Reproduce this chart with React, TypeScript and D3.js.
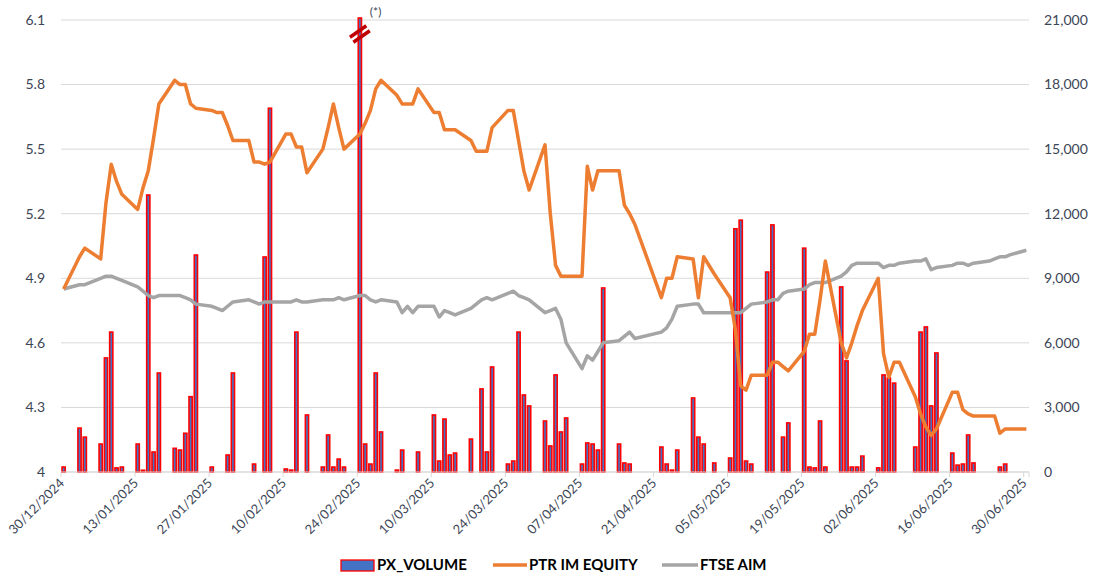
import React from "react";
import * as d3 from "d3";

// trading days shown on the chart
const dates = [
  "2024-12-30",
  "2025-01-02", "2025-01-03", "2025-01-06", "2025-01-07", "2025-01-08", "2025-01-09", "2025-01-10",
  "2025-01-13", "2025-01-14", "2025-01-15", "2025-01-16", "2025-01-17", "2025-01-20", "2025-01-21",
  "2025-01-22", "2025-01-23", "2025-01-24", "2025-01-27", "2025-01-28", "2025-01-29", "2025-01-30", "2025-01-31",
  "2025-02-03", "2025-02-04", "2025-02-05", "2025-02-06", "2025-02-07", "2025-02-10", "2025-02-11",
  "2025-02-12", "2025-02-13", "2025-02-14", "2025-02-17", "2025-02-18", "2025-02-19", "2025-02-20",
  "2025-02-21", "2025-02-24", "2025-02-25", "2025-02-26", "2025-02-27", "2025-02-28",
  "2025-03-03", "2025-03-04", "2025-03-05", "2025-03-06", "2025-03-07", "2025-03-10", "2025-03-11",
  "2025-03-12", "2025-03-13", "2025-03-14", "2025-03-17", "2025-03-18", "2025-03-19", "2025-03-20",
  "2025-03-21", "2025-03-24", "2025-03-25", "2025-03-26", "2025-03-27", "2025-03-28", "2025-03-31",
  "2025-04-01", "2025-04-02", "2025-04-03", "2025-04-04", "2025-04-07", "2025-04-08", "2025-04-09",
  "2025-04-10", "2025-04-11", "2025-04-14", "2025-04-15", "2025-04-16", "2025-04-17", "2025-04-22",
  "2025-04-23", "2025-04-24", "2025-04-25", "2025-04-28", "2025-04-29", "2025-04-30",
  "2025-05-02", "2025-05-05", "2025-05-06", "2025-05-07", "2025-05-08", "2025-05-09", "2025-05-12",
  "2025-05-13", "2025-05-14", "2025-05-15", "2025-05-16", "2025-05-19", "2025-05-20", "2025-05-21",
  "2025-05-22", "2025-05-23", "2025-05-26", "2025-05-27", "2025-05-28", "2025-05-29", "2025-05-30",
  "2025-06-02", "2025-06-03", "2025-06-04", "2025-06-05", "2025-06-06", "2025-06-09", "2025-06-10",
  "2025-06-11", "2025-06-12", "2025-06-13", "2025-06-16", "2025-06-17", "2025-06-18", "2025-06-19",
  "2025-06-20", "2025-06-23", "2025-06-24", "2025-06-25", "2025-06-26", "2025-06-27", "2025-06-30",
];

// PX_VOLUME (right axis)
const volume = [
  230,
  2040, 1620, 1300, 5300, 6500, 190, 230, 1300, 80, 12870, 930, 4600, 1100, 1020, 1800, 3500, 10080, 230, 0, 0, 790, 4600,
  0, 370, 0, 9990, 16900, 140, 90, 6500, 0, 2650, 230, 1720, 230, 600, 230, 30000, 1300, 370, 4600, 1860,
  90, 1020, 0, 0, 930, 2650, 510, 2460, 790, 880, 1530, 0, 3860, 930, 4880, 370, 510, 6500, 3580, 3070, 2370,
  1210, 4510, 1860, 2510, 370, 1350, 1300, 1020, 8550, 1300, 420, 370, 0, 1160, 370, 90, 1020, 3440, 1620, 1300,
  420, 650, 11300, 11700, 510, 370, 9290, 11480, 0, 1620, 2280, 10400, 230, 190, 2370, 230, 8600, 5160, 230, 230, 740,
  190, 4510, 4370, 4130, 0, 1160, 6500, 6740, 3070, 5530, 880, 320, 370, 1720, 420, 0, 0, 230, 370, 0, 0,
];

// PTR IM EQUITY (left axis)
const ptr = [
  4.85,
  5.0, 5.04, 4.99, 5.25, 5.43, 5.35, 5.29, 5.22, 5.32, 5.4, 5.55, 5.71, 5.82, 5.8, 5.8, 5.71, 5.69, 5.68, 5.67, 5.67, 5.61, 5.54,
  5.54, 5.44, 5.44, 5.43, 5.44, 5.57, 5.57, 5.51, 5.51, 5.39, 5.5, 5.6, 5.71, 5.6, 5.5, 5.57, 5.62, 5.68, 5.78, 5.82,
  5.75, 5.71, 5.71, 5.71, 5.78, 5.67, 5.67, 5.59, 5.59, 5.59, 5.54, 5.49, 5.49, 5.49, 5.6, 5.68, 5.68, 5.54, 5.4, 5.31, 5.52,
  5.2, 4.96, 4.91, 4.91, 4.91, 5.42, 5.31, 5.4, 5.4, 5.4, 5.24, 5.2, 5.15, 4.81, 4.9, 4.9, 5.0, 4.99, 4.81, 5.0,
  4.92, 4.81, 4.66, 4.4, 4.38, 4.45, 4.45, 4.51, 4.51, 4.49, 4.47, 4.56, 4.64, 4.64, 4.8, 4.98, 4.6, 4.53, 4.6, 4.68, 4.75,
  4.9, 4.55, 4.44, 4.51, 4.51, 4.35, 4.27, 4.21, 4.17, 4.2, 4.37, 4.37, 4.29, 4.27, 4.26, 4.26, 4.26, 4.18, 4.2, 4.2, 4.2,
];

// FTSE AIM, rebased (left axis)
const aim = [
  4.85,
  4.87, 4.87, 4.9, 4.91, 4.91, 4.9, 4.89, 4.86, 4.84, 4.82, 4.81, 4.82, 4.82, 4.82, 4.81, 4.8, 4.78, 4.77, 4.76, 4.75, 4.77, 4.79,
  4.8, 4.79, 4.78, 4.79, 4.79, 4.79, 4.79, 4.8, 4.79, 4.79, 4.8, 4.8, 4.8, 4.81, 4.8, 4.82, 4.82, 4.8, 4.79, 4.8,
  4.79, 4.74, 4.77, 4.74, 4.77, 4.77, 4.72, 4.75, 4.74, 4.73, 4.76, 4.78, 4.8, 4.81, 4.8, 4.83, 4.84, 4.82, 4.81, 4.8, 4.74,
  4.75, 4.76, 4.71, 4.6, 4.48, 4.54, 4.52, 4.56, 4.6, 4.61, 4.63, 4.65, 4.62, 4.65, 4.67, 4.71, 4.77, 4.78, 4.78, 4.74,
  4.74, 4.74, 4.74, 4.74, 4.76, 4.78, 4.79, 4.8, 4.8, 4.83, 4.84, 4.85, 4.87, 4.88, 4.88, 4.88, 4.91, 4.93, 4.96, 4.97, 4.97,
  4.97, 4.95, 4.96, 4.96, 4.97, 4.98, 4.98, 4.99, 4.94, 4.95, 4.96, 4.97, 4.97, 4.96, 4.97, 4.98, 4.99, 5.0, 5.0, 5.01, 5.03,
];

const leftTicks = [4, 4.3, 4.6, 4.9, 5.2, 5.5, 5.8, 6.1];
const rightTicks = [0, 3000, 6000, 9000, 12000, 15000, 18000, 21000];
const xStart = "2024-12-30";
const xEnd = "2025-07-01";

const W = 1102,
  H = 579;
const plot = { left: 61, right: 1029, top: 20, bottom: 472 };
const labelFont = "Lato, 'Open Sans', sans-serif";
const axisColor = "#3c4656";

const App = () => {
  const parsed = dates.map((d) => new Date(d));
  const x = d3
    .scaleUtc()
    .domain([new Date(xStart), new Date(xEnd)])
    .range([plot.left, plot.right]);
  const day = 86400000;
  const half = (x(new Date(+new Date(xStart) + day)) - plot.left) / 2;
  const yL = d3.scaleLinear().domain([4, 6.1]).range([plot.bottom, plot.top]);
  const yR = d3.scaleLinear().domain([0, 21000]).range([plot.bottom, plot.top]);

  // a tick every two weeks, 30/12/2024 .. 30/06/2025
  const xTicks = d3.range(0, 14).map((i) => new Date(+new Date(xStart) + i * 14 * day));
  const fmt = d3.utcFormat("%d/%m/%Y");

  const lineL = d3
    .line<number>()
    .x((_, i) => x(parsed[i]) + half)
    .y((v) => yL(v));

  const barW = 3.2;
  const breakIdx = volume.indexOf(d3.max(volume) as number);
  const bx = x(parsed[breakIdx]) + half;

  return (
    <svg
      width={W}
      height={H}
      style={{ position: "absolute", left: 0, top: 0, background: "#fff" }}
    >
      {/* gridlines */}
      {leftTicks.map((t) => (
        <line
          key={t}
          x1={plot.left}
          x2={plot.right}
          y1={yL(t)}
          y2={yL(t)}
          stroke="#d9d9d9"
          strokeWidth={1}
        />
      ))}
      {/* x axis ticks */}
      {xTicks.map((t) => (
        <line
          key={+t}
          x1={x(t)}
          x2={x(t)}
          y1={plot.bottom}
          y2={plot.bottom + 5}
          stroke="#d9d9d9"
        />
      ))}
      <line
        x1={plot.right}
        x2={plot.right}
        y1={plot.bottom}
        y2={plot.bottom + 5}
        stroke="#d9d9d9"
      />

      {/* volume bars */}
      {volume.map((v, i) =>
        v > 0 ? (
          <rect
            key={dates[i]}
            x={x(parsed[i]) + half - barW / 2}
            y={Math.max(yR(v), plot.top - 2)}
            width={barW}
            height={plot.bottom - Math.max(yR(v), plot.top - 2)}
            fill="#4472c4"
            stroke="#ff0000"
            strokeWidth={1.6}
          />
        ) : null
      )}

      {/* axis break marker */}
      <g transform={`translate(${bx},${34}) rotate(-35)`}>
        <line x1={-10} x2={10} y1={-3} y2={-3} stroke="#c00000" strokeWidth={3.5} />
        <line x1={-10} x2={10} y1={3} y2={3} stroke="#c00000" strokeWidth={3.5} />
      </g>
      <text
        x={bx + 10}
        y={16}
        fontFamily={labelFont}
        fontSize={12}
        fill={axisColor}
      >
        (*)
      </text>

      {/* lines */}
      <path
        d={lineL(aim) || ""}
        fill="none"
        stroke="#a5a5a5"
        strokeWidth={3.5}
        strokeLinejoin="round"
      />
      <path
        d={lineL(ptr) || ""}
        fill="none"
        stroke="#ed7d31"
        strokeWidth={3.5}
        strokeLinejoin="round"
      />

      {/* bottom axis line */}
      <line
        x1={plot.left}
        x2={plot.right}
        y1={plot.bottom}
        y2={plot.bottom}
        stroke="#d9d9d9"
      />

      {/* left axis labels */}
      {leftTicks.map((t) => (
        <text
          key={t}
          x={45}
          y={yL(t)}
          dy="0.35em"
          textAnchor="end"
          fontFamily={labelFont}
          fontSize={14}
          fill={axisColor}
        >
          {t}
        </text>
      ))}
      {/* right axis labels */}
      {rightTicks.map((t) => (
        <text
          key={t}
          x={1044}
          y={yR(t)}
          dy="0.35em"
          textAnchor="start"
          fontFamily={labelFont}
          fontSize={14}
          fill={axisColor}
        >
          {d3.format(",")(t)}
        </text>
      ))}
      {/* date labels */}
      {xTicks.map((t) => (
        <text
          key={+t}
          transform={`translate(${x(t) + 4},${plot.bottom + 12}) rotate(-45)`}
          textAnchor="end"
          fontFamily={labelFont}
          fontSize={13}
          fill={axisColor}
        >
          {fmt(t)}
        </text>
      ))}

      {/* legend */}
      <g fontFamily={labelFont} fontSize={15} fontWeight="bold" fill="#000">
        <rect x={341} y={560} width={33} height={11} fill="#4472c4" stroke="#ff0000" strokeWidth={1.3} />
        <text x={377} y={565} dy="0.35em">PX_VOLUME</text>
        <line x1={493} x2={527} y1={565} y2={565} stroke="#ed7d31" strokeWidth={3.5} />
        <text x={529} y={565} dy="0.35em">PTR IM EQUITY</text>
        <line x1={662} x2={698} y1={565} y2={565} stroke="#a5a5a5" strokeWidth={3.5} />
        <text x={700} y={565} dy="0.35em">FTSE AIM</text>
      </g>
    </svg>
  );
};

export default App;
